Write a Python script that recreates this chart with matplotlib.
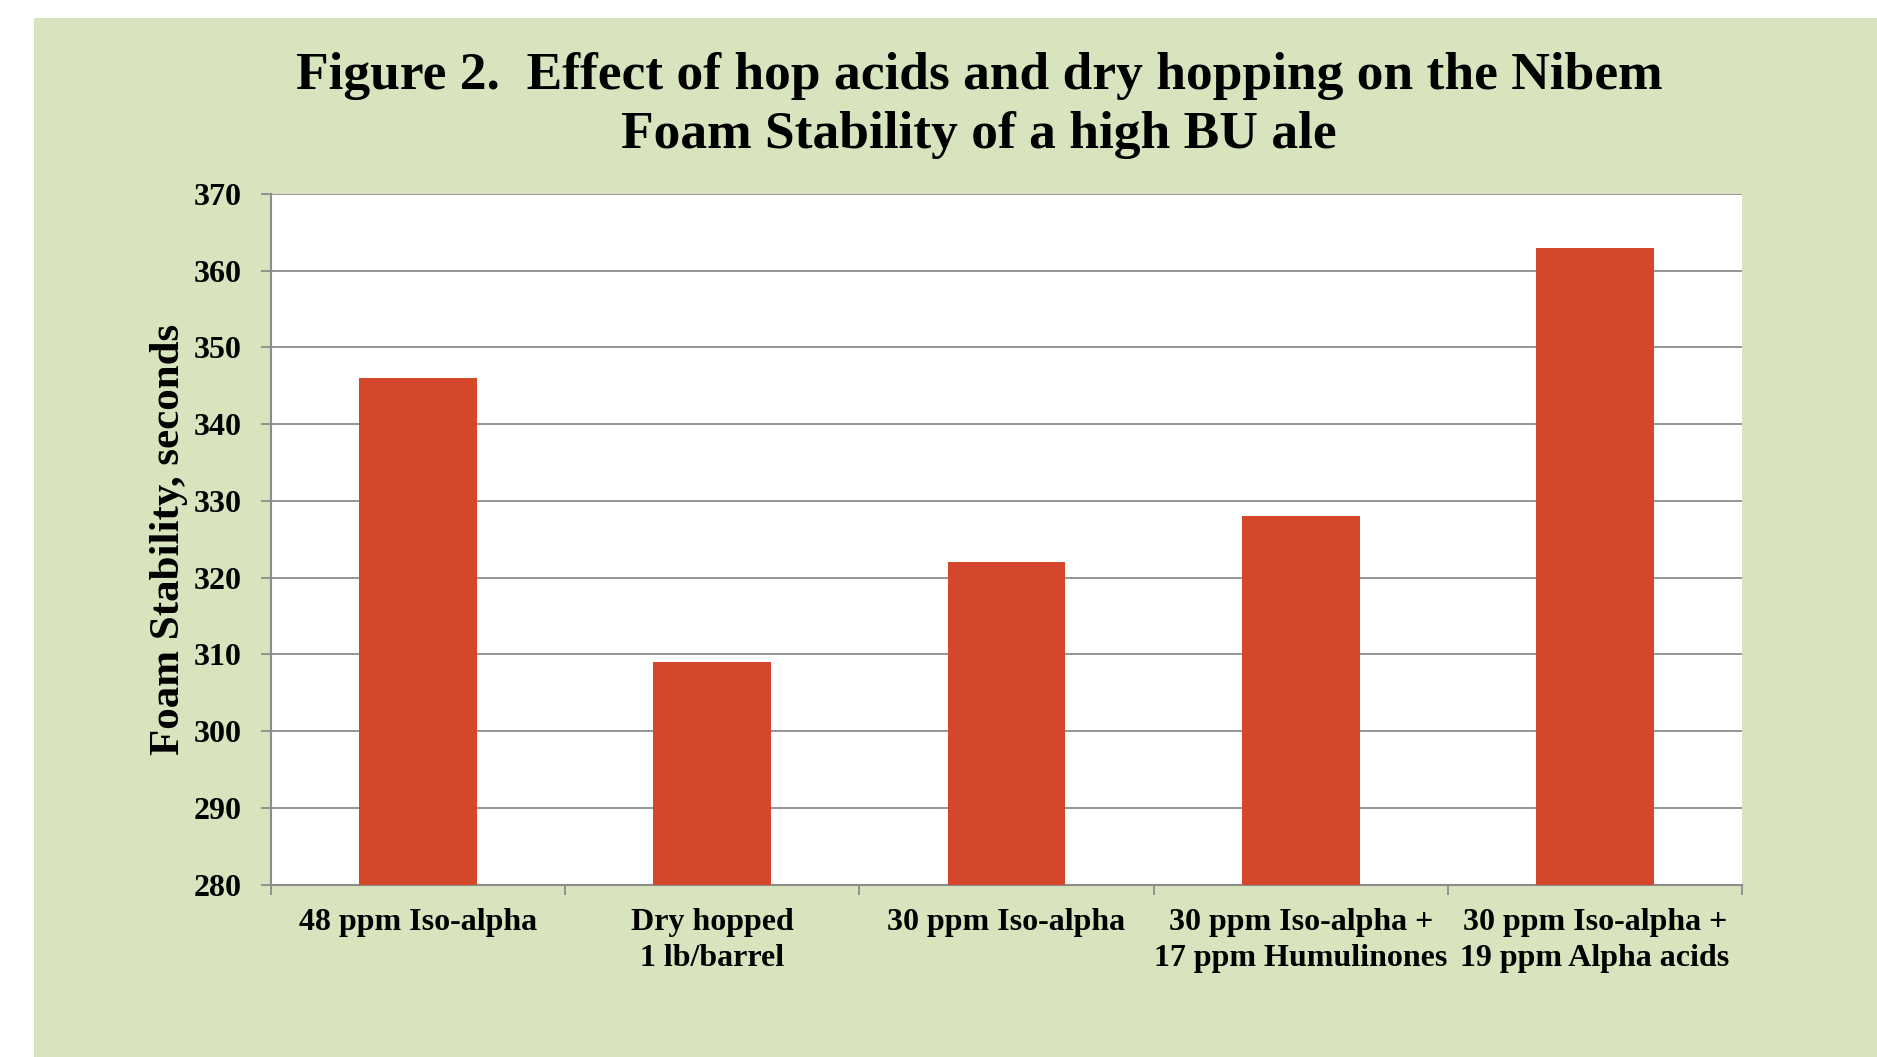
import matplotlib
matplotlib.use("Agg")
import matplotlib.pyplot as plt

categories = ["48 ppm Iso-alpha", "Dry hopped\n1 lb/barrel", "30 ppm Iso-alpha",
              "30 ppm Iso-alpha +\n17 ppm Humulinones", "30 ppm Iso-alpha +\n19 ppm Alpha acids"]
values = [346, 309, 322, 328, 363]
yticks = [280, 290, 300, 310, 320, 330, 340, 350, 360, 370]
title = "Figure 2.  Effect of hop acids and dry hopping on the Nibem\nFoam Stability of a high BU ale"
ylabel = "Foam Stability, seconds"

W, H = 1877, 1057
fig = plt.figure(figsize=(W / 100, H / 100), dpi=100)
fig.patch.set_facecolor("white")
green = "#D8E4BD"
bg = fig.add_axes([34 / W, 0, 1 - 34 / W, 1 - 18 / H], zorder=-10)
bg.set_facecolor(green)
bg.set_xticks([])
bg.set_yticks([])
for s in bg.spines.values():
    s.set_visible(False)

left, right, top, bottom = 271, 1742, 194, 884.5
ax = fig.add_axes([left / W, 1 - bottom / H, (right - left) / W, (bottom - top) / H], zorder=1)
ax.set_facecolor("white")

font = "Liberation Serif"
x = range(len(categories))
ax.bar(x, values, width=0.4, color="#D4472A", zorder=3)
ax.set_xlim(-0.5, len(categories) - 0.5)
ax.set_ylim(280, 370)
ax.set_yticks(yticks)
ax.yaxis.grid(True, color="#8C8C8C", linewidth=1.3, zorder=1)
ax.set_axisbelow(True)

for s in ["top", "right"]:
    ax.spines[s].set_visible(False)
for s in ["left", "bottom"]:
    ax.spines[s].set_color("#8C8C8C")
    ax.spines[s].set_linewidth(1.5)

ax.set_yticklabels([str(v) for v in yticks], fontfamily=font, fontweight="bold", fontsize=23)
ax.tick_params(axis="y", length=7, width=1.3, color="#8C8C8C", pad=14)
ax.set_xticks([i - 0.5 for i in range(len(categories) + 1)], minor=False)
ax.set_xticklabels([])
ax.tick_params(axis="x", which="major", length=7, width=1.3, color="#8C8C8C", direction="out")
ax.set_xticks(list(x), minor=True)
ax.set_xticklabels(categories, minor=True, fontfamily=font, fontweight="bold", fontsize=23,
                   linespacing=1.3)
ax.tick_params(axis="x", which="minor", length=0, pad=17)

ax.set_ylabel(ylabel, fontfamily=font, fontweight="bold", fontsize=31, labelpad=4)

fig.text(979 / W, 1 - 52 / H, title, ha="center", va="top", fontfamily=font,
         fontweight="bold", fontsize=38.5, linespacing=1.3)

fig.savefig("out.png", dpi=100, facecolor=fig.get_facecolor())
